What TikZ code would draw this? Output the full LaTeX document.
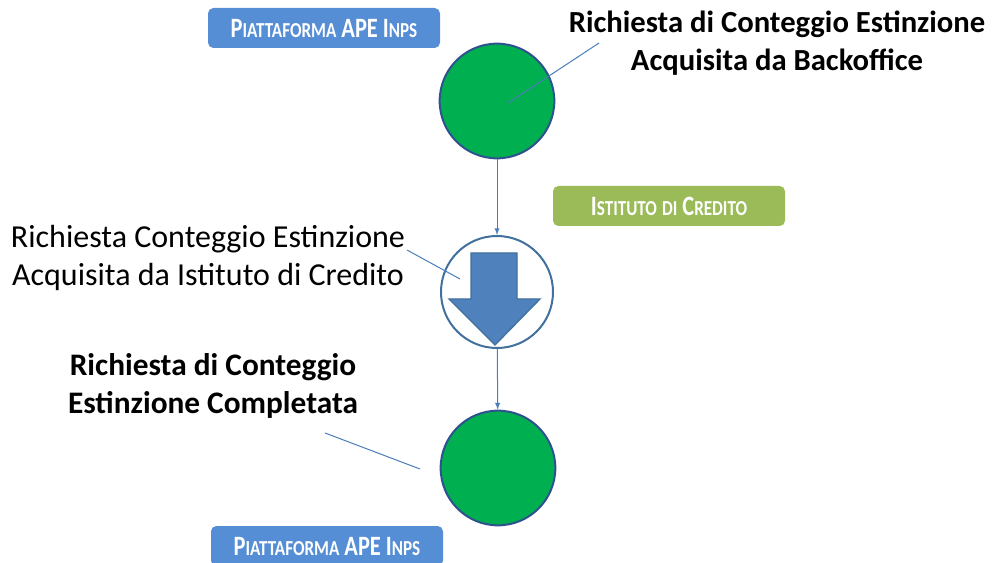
\documentclass[tikz,border=0pt]{standalone}
\usepackage{fontspec}
\setmainfont{Carlito}
\newfontfamily\tagfont{Carlito}[FakeStretch=0.8]
\newcommand{\tagsm}{\fontsize{16}{16}\selectfont}
\definecolor{verde}{HTML}{00B050}
\definecolor{bordo}{HTML}{2F528F}
\definecolor{bordomid}{HTML}{41719C}
\definecolor{freccia}{HTML}{4F81BD}
\definecolor{linea}{HTML}{4A7EBB}
\definecolor{tagblu}{HTML}{558ED5}
\definecolor{tagverde}{HTML}{9BBB59}
\begin{document}
\begin{tikzpicture}
    [x=0.75pt,y=-0.75pt,%
    stato/.style={circle,fill=verde,draw=bordo,line width=1.5pt,%
      minimum size=86pt,inner sep=0pt},
    attesa/.style={circle,fill=white,draw=bordomid,line width=1.5pt,%
      minimum size=84pt,inner sep=0pt},
    testo/.style={font=\fontsize{24}{28}\selectfont,align=center,%
      inner sep=0pt}]
    \tikzstyle{etichetta}=[fill=#1,rounded corners=4pt,text=white,%
    minimum width=174pt,minimum height=30pt,inner sep=0pt,%
    font=\tagfont\bfseries\fontsize{21}{21}\selectfont]
    \useasboundingbox (0,0) rectangle (1008,563);

    \node[etichetta=tagblu] (PA) at (324,28)
    {P{\tagsm IATTAFORMA} APE I{\tagsm NPS}};
    \node[etichetta=tagverde] (IC) at (669,206)
    {I{\tagsm STITUTO} {\tagsm DI} C{\tagsm REDITO}};
    \node[etichetta=tagblu] (PB) at (327,546)
    {P{\tagsm IATTAFORMA} APE I{\tagsm NPS}};

    \node[stato] (S1) at (497,101) {};
    \node[attesa] (S2) at (497,292) {};
    \node[stato] (S3) at (498,468) {};

    % freccia dentro lo stato di attesa
    \filldraw[fill=freccia,draw=bordomid,line width=1pt]
    (471,253) -- (517,253) -- (517,299) -- (540,299) -- (495,345)
    -- (449,299) -- (471,299) -- cycle;

    \draw[->,>=latex,linea,line width=0.75pt] (S1) -- (S2);
    \draw[->,>=latex,linea,line width=0.75pt] (S2) -- (S3);

    \node[testo,font=\bfseries\fontsize{23}{28}\selectfont] (T1)
    at (777,43) {Richiesta di Conteggio Estinzione\\
      Acquisita da Backoffice};
    \node[testo] (T2) at (208,258) {Richiesta Conteggio Estinzione\\
      Acquisita da Istituto di Credito};
    \node[testo,font=\bfseries\fontsize{23.5}{28}\selectfont] (T3)
    at (213,386) {Richiesta di Conteggio\\ Estinzione Completata};

    \coordinate (a1) at (508,103);
    \coordinate (b1) at (599,43);
    \coordinate (a2) at (460,279);
    \coordinate (b2) at (407,250);
    \coordinate (a3) at (420,469);
    \coordinate (b3) at (325,433);
    \draw[linea,line width=0.75pt] (a1) -- (b1);
    \draw[linea,line width=0.75pt] (a2) -- (b2);
    \draw[linea,line width=0.75pt] (a3) -- (b3);
\end{tikzpicture}
\end{document}
